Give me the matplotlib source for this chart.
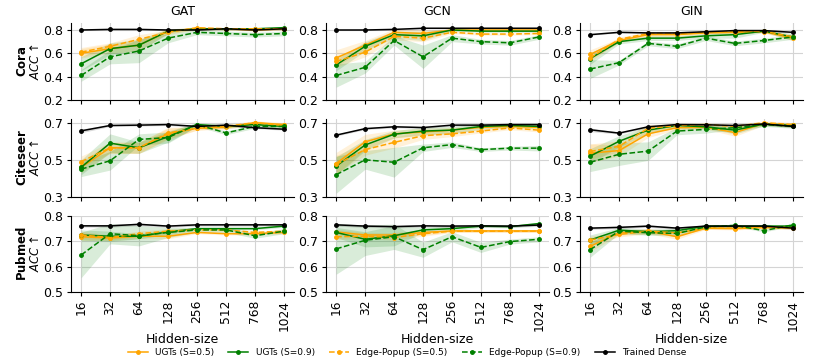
import numpy as np
import matplotlib
matplotlib.use("Agg")
import matplotlib.pyplot as plt
from matplotlib.lines import Line2D

hidden_sizes = ['16', '32', '64', '128', '256', '512', '768', '1024']
datasets = ['Cora', 'Citeseer', 'Pubmed']
models = ['GAT', 'GCN', 'GIN']
series_names = ['UGTs (S=0.5)', 'UGTs (S=0.9)', 'Edge-Popup (S=0.5)',
                'Edge-Popup (S=0.9)', 'Trained Dense']

# mean accuracy per panel, rows: UGT 0.5, UGT 0.9, EP 0.5, EP 0.9, Dense
cora_gat = [[0.60, 0.64, 0.67, 0.79, 0.81, 0.81, 0.80, 0.81],
            [0.51, 0.64, 0.67, 0.79, 0.81, 0.81, 0.81, 0.82],
            [0.61, 0.66, 0.72, 0.78, 0.82, 0.81, 0.81, 0.81],
            [0.41, 0.57, 0.62, 0.73, 0.78, 0.77, 0.76, 0.77],
            [0.80, 0.805, 0.805, 0.80, 0.80, 0.81, 0.80, 0.81]]
cora_gcn = [[0.56, 0.67, 0.78, 0.77, 0.80, 0.80, 0.80, 0.80],
            [0.50, 0.66, 0.76, 0.75, 0.80, 0.79, 0.79, 0.79],
            [0.53, 0.61, 0.745, 0.73, 0.78, 0.765, 0.765, 0.77],
            [0.41, 0.48, 0.71, 0.57, 0.73, 0.70, 0.69, 0.74],
            [0.80, 0.80, 0.805, 0.815, 0.815, 0.815, 0.815, 0.815]]
cora_gin = [[0.59, 0.71, 0.76, 0.76, 0.775, 0.78, 0.785, 0.73],
            [0.555, 0.70, 0.73, 0.73, 0.75, 0.76, 0.79, 0.74],
            [0.56, 0.72, 0.77, 0.77, 0.78, 0.785, 0.79, 0.74],
            [0.465, 0.52, 0.685, 0.66, 0.73, 0.685, 0.71, 0.74],
            [0.76, 0.78, 0.775, 0.775, 0.785, 0.795, 0.795, 0.78]]
citeseer_gat = [[0.46, 0.565, 0.565, 0.64, 0.67, 0.675, 0.70, 0.69],
                [0.46, 0.59, 0.565, 0.625, 0.69, 0.68, 0.69, 0.68],
                [0.49, 0.565, 0.565, 0.645, 0.67, 0.68, 0.70, 0.685],
                [0.45, 0.495, 0.61, 0.62, 0.69, 0.645, 0.68, 0.68],
                [0.656, 0.685, 0.687, 0.69, 0.68, 0.687, 0.673, 0.665]]
citeseer_gcn = [[0.48, 0.597, 0.64, 0.65, 0.66, 0.675, 0.68, 0.675],
                [0.466, 0.58, 0.638, 0.655, 0.66, 0.68, 0.685, 0.68],
                [0.475, 0.555, 0.594, 0.63, 0.64, 0.655, 0.672, 0.66],
                [0.42, 0.50, 0.487, 0.565, 0.582, 0.555, 0.563, 0.563],
                [0.633, 0.668, 0.678, 0.674, 0.687, 0.687, 0.69, 0.69]]
citeseer_gin = [[0.536, 0.55, 0.64, 0.673, 0.675, 0.647, 0.695, 0.685],
                [0.52, 0.60, 0.66, 0.685, 0.678, 0.66, 0.693, 0.685],
                [0.545, 0.573, 0.67, 0.685, 0.69, 0.68, 0.70, 0.69],
                [0.487, 0.53, 0.547, 0.655, 0.664, 0.673, 0.69, 0.68],
                [0.662, 0.644, 0.678, 0.69, 0.689, 0.685, 0.693, 0.68]]
pubmed_gat = [[0.718, 0.713, 0.72, 0.72, 0.735, 0.73, 0.73, 0.735],
              [0.725, 0.72, 0.72, 0.737, 0.75, 0.75, 0.75, 0.76],
              [0.725, 0.715, 0.73, 0.74, 0.745, 0.745, 0.735, 0.74],
              [0.646, 0.73, 0.722, 0.735, 0.745, 0.745, 0.722, 0.74],
              [0.761, 0.761, 0.767, 0.76, 0.765, 0.765, 0.765, 0.765]]
pubmed_gcn = [[0.737, 0.725, 0.725, 0.735, 0.741, 0.741, 0.741, 0.741],
              [0.735, 0.708, 0.722, 0.745, 0.75, 0.76, 0.758, 0.77],
              [0.718, 0.72, 0.715, 0.73, 0.74, 0.74, 0.74, 0.74],
              [0.67, 0.704, 0.718, 0.667, 0.718, 0.676, 0.699, 0.708],
              [0.765, 0.76, 0.758, 0.761, 0.76, 0.761, 0.76, 0.764]]
pubmed_gin = [[0.68, 0.734, 0.74, 0.718, 0.752, 0.75, 0.755, 0.752],
              [0.705, 0.744, 0.738, 0.742, 0.76, 0.76, 0.76, 0.76],
              [0.705, 0.727, 0.74, 0.733, 0.752, 0.752, 0.755, 0.755],
              [0.667, 0.74, 0.734, 0.731, 0.757, 0.763, 0.742, 0.765],
              [0.752, 0.755, 0.76, 0.752, 0.76, 0.76, 0.76, 0.752]]

# std (shaded band) per panel, same row order
cora_gat_std = [[0.04, 0.04, 0.05, 0.02, 0.01, 0.01, 0.01, 0.01],
                [0.06, 0.05, 0.05, 0.02, 0.01, 0.01, 0.01, 0.01],
                [0.04, 0.03, 0.04, 0.02, 0.01, 0.01, 0.01, 0.01],
                [0.05, 0.06, 0.10, 0.04, 0.02, 0.02, 0.02, 0.02],
                [0.005, 0.005, 0.005, 0.005, 0.005, 0.005, 0.005, 0.005]]
cora_gcn_std = [[0.07, 0.04, 0.03, 0.03, 0.01, 0.01, 0.01, 0.01],
                [0.05, 0.04, 0.03, 0.04, 0.01, 0.01, 0.01, 0.01],
                [0.05, 0.04, 0.03, 0.03, 0.01, 0.01, 0.01, 0.01],
                [0.10, 0.05, 0.04, 0.10, 0.03, 0.02, 0.02, 0.02],
                [0.005, 0.005, 0.005, 0.005, 0.005, 0.005, 0.005, 0.005]]
cora_gin_std = [[0.04, 0.02, 0.02, 0.02, 0.01, 0.01, 0.01, 0.02],
                [0.05, 0.02, 0.02, 0.02, 0.02, 0.03, 0.01, 0.03],
                [0.03, 0.02, 0.01, 0.01, 0.01, 0.01, 0.01, 0.02],
                [0.08, 0.02, 0.02, 0.02, 0.02, 0.02, 0.02, 0.02],
                [0.005, 0.005, 0.005, 0.005, 0.005, 0.005, 0.005, 0.005]]
citeseer_gat_std = [[0.03, 0.03, 0.03, 0.03, 0.01, 0.01, 0.01, 0.01],
                    [0.04, 0.05, 0.03, 0.03, 0.01, 0.01, 0.01, 0.01],
                    [0.03, 0.03, 0.03, 0.03, 0.01, 0.01, 0.01, 0.01],
                    [0.04, 0.05, 0.03, 0.03, 0.01, 0.01, 0.01, 0.01],
                    [0.01, 0.005, 0.005, 0.005, 0.005, 0.005, 0.005, 0.005]]
citeseer_gcn_std = [[0.06, 0.04, 0.02, 0.02, 0.015, 0.01, 0.01, 0.01],
                    [0.05, 0.03, 0.02, 0.02, 0.02, 0.015, 0.01, 0.01],
                    [0.05, 0.03, 0.03, 0.02, 0.015, 0.01, 0.01, 0.01],
                    [0.10, 0.05, 0.08, 0.02, 0.015, 0.01, 0.01, 0.015],
                    [0.005, 0.005, 0.005, 0.005, 0.005, 0.005, 0.005, 0.005]]
citeseer_gin_std = [[0.05, 0.03, 0.02, 0.01, 0.01, 0.02, 0.01, 0.01],
                    [0.04, 0.03, 0.02, 0.01, 0.01, 0.02, 0.01, 0.01],
                    [0.04, 0.03, 0.02, 0.01, 0.01, 0.01, 0.01, 0.01],
                    [0.05, 0.06, 0.05, 0.02, 0.02, 0.01, 0.01, 0.01],
                    [0.01, 0.005, 0.005, 0.005, 0.005, 0.005, 0.005, 0.005]]
pubmed_gat_std = [[0.015, 0.01, 0.01, 0.01, 0.005, 0.005, 0.005, 0.005],
                  [0.02, 0.02, 0.01, 0.01, 0.005, 0.005, 0.005, 0.005],
                  [0.015, 0.01, 0.01, 0.01, 0.005, 0.005, 0.005, 0.005],
                  [0.09, 0.04, 0.04, 0.02, 0.01, 0.01, 0.01, 0.01],
                  [0.005, 0.005, 0.005, 0.005, 0.005, 0.005, 0.005, 0.005]]
pubmed_gcn_std = [[0.01, 0.01, 0.01, 0.01, 0.005, 0.005, 0.005, 0.005],
                  [0.02, 0.03, 0.04, 0.01, 0.01, 0.005, 0.005, 0.005],
                  [0.01, 0.01, 0.01, 0.01, 0.005, 0.005, 0.005, 0.005],
                  [0.10, 0.06, 0.05, 0.03, 0.02, 0.02, 0.01, 0.01],
                  [0.005, 0.005, 0.005, 0.005, 0.005, 0.005, 0.005, 0.005]]
pubmed_gin_std = [[0.02, 0.01, 0.01, 0.01, 0.005, 0.005, 0.005, 0.005],
                  [0.02, 0.01, 0.01, 0.01, 0.005, 0.005, 0.005, 0.005],
                  [0.015, 0.01, 0.01, 0.01, 0.005, 0.005, 0.005, 0.005],
                  [0.03, 0.01, 0.01, 0.01, 0.005, 0.005, 0.005, 0.005],
                  [0.005, 0.005, 0.005, 0.005, 0.005, 0.005, 0.005, 0.005]]

panels = [[cora_gat, cora_gcn, cora_gin],
          [citeseer_gat, citeseer_gcn, citeseer_gin],
          [pubmed_gat, pubmed_gcn, pubmed_gin]]
panel_stds = [[cora_gat_std, cora_gcn_std, cora_gin_std],
              [citeseer_gat_std, citeseer_gcn_std, citeseer_gin_std],
              [pubmed_gat_std, pubmed_gcn_std, pubmed_gin_std]]

colors = ['orange', 'green', 'orange', 'green', 'black']
styles = ['-', '-', '--', '--', '-']
row_ylims = [(0.2, 0.86), (0.3, 0.72), (0.5, 0.8)]
row_yticks = [[0.2, 0.4, 0.6, 0.8], [0.3, 0.5, 0.7], [0.5, 0.6, 0.7, 0.8]]

fig = plt.figure(figsize=(8.14, 3.62), dpi=100)
lefts = [0.0872, 0.4005, 0.7125]
bottoms = [0.7238, 0.4558, 0.1934]
heights = [0.2127, 0.2155, 0.21]
width = 0.274

x = np.arange(len(hidden_sizes))
for r in range(3):
    for c in range(3):
        ax = fig.add_axes([lefts[c], bottoms[r], width, heights[r]])
        means = panels[r][c]
        stds = panel_stds[r][c]
        for k in range(5):
            m = np.array(means[k])
            s = np.array(stds[k])
            ax.fill_between(x, m - s, m + s, color=colors[k], alpha=0.15, linewidth=0)
            ax.plot(x, m, color=colors[k], linestyle=styles[k], marker='o',
                    markersize=2.5, linewidth=1.1)
        ax.set_ylim(*row_ylims[r])
        ax.set_yticks(row_yticks[r])
        ax.set_yticklabels([f'{t:.1f}' for t in row_yticks[r]])
        ax.set_xticks(x)
        ax.grid(True, color='#d4d4d4', linewidth=0.8)
        ax.set_axisbelow(True)
        ax.spines['top'].set_visible(False)
        ax.spines['right'].set_visible(False)
        ax.tick_params(labelsize=9, length=3, pad=2.5)
        ax.tick_params(axis='x', labelsize=8.8)
        if r == 2:
            ax.set_xticklabels(hidden_sizes, rotation=90)
            ax.set_xlabel('Hidden-size', fontsize=9, labelpad=2)
        else:
            ax.set_xticklabels([])
        if r == 0:
            ax.set_title(models[c], fontsize=9)
        if c == 0:
            ax.set_ylabel(r'$\mathbf{' + datasets[r] + '}$' + '\n' + r'$ACC\uparrow$',
                          fontsize=8.5, labelpad=1, linespacing=0.95)

handles = [Line2D([0], [0], color=colors[k], linestyle=styles[k], marker='o',
                  markersize=2.5, linewidth=1.1) for k in range(5)]
fig.legend(handles, series_names, loc='center', bbox_to_anchor=(0.5, 0.025),
           ncol=5, frameon=False, fontsize=6.5, columnspacing=1.6, handlelength=2.2)

fig.savefig('out.png', dpi=100)
